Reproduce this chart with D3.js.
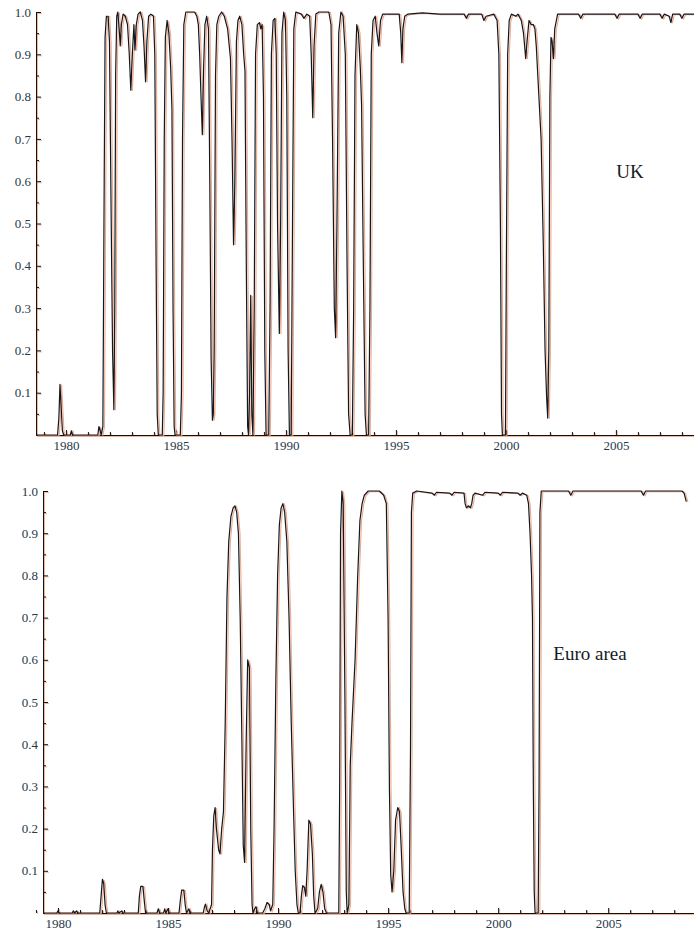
<!DOCTYPE html>
<html lang="en">
<head>
<meta charset="UTF-8">
<title>Regime probabilities</title>
<script src="https://d3js.org/d3.v7.min.js"></script>
<style>
  body { margin: 0; background: #fff; }
  .panel-label { font-family: "Liberation Serif", serif; font-size: 19px; fill: #141c26; }
</style>
</head>
<body>
<div id="chart"></div>
<script>
// UK smoothed probability, [decimal year, probability]
const ukYears = [1978.64,1979.62,1979.68,1979.73,1979.78,1979.84,1979.9,1980.2,1980.25,1980.3,1981.45,1981.5,1981.56,1981.6,1981.68,1981.74,1981.78,1981.84,1981.92,1981.98,1982.06,1982.12,1982.18,1982.22,1982.26,1982.31,1982.36,1982.42,1982.47,1982.52,1982.6,1982.7,1982.8,1982.88,1982.95,1983.02,1983.09,1983.14,1983.2,1983.28,1983.38,1983.48,1983.55,1983.62,1983.68,1983.76,1983.86,1983.98,1984.04,1984.1,1984.15,1984.2,1984.38,1984.42,1984.47,1984.52,1984.6,1984.68,1984.76,1984.82,1984.87,1984.92,1984.96,1985.2,1985.25,1985.3,1985.36,1985.45,1985.85,1985.95,1986.02,1986.08,1986.14,1986.2,1986.26,1986.32,1986.4,1986.48,1986.54,1986.6,1986.66,1986.7,1986.74,1986.8,1986.86,1986.95,1987.08,1987.2,1987.35,1987.48,1987.55,1987.62,1987.68,1987.75,1987.82,1987.9,1988.0,1988.08,1988.14,1988.2,1988.26,1988.3,1988.35,1988.4,1988.45,1988.5,1988.56,1988.62,1988.7,1988.8,1988.86,1988.92,1988.98,1989.04,1989.1,1989.22,1989.28,1989.34,1989.42,1989.5,1989.56,1989.62,1989.7,1989.76,1989.82,1989.9,1989.98,1990.04,1990.1,1990.16,1990.24,1990.3,1990.36,1990.45,1990.7,1990.82,1990.95,1991.08,1991.15,1991.22,1991.28,1991.36,1991.5,1991.95,1992.05,1992.12,1992.2,1992.26,1992.32,1992.4,1992.5,1992.6,1992.7,1992.78,1992.85,1992.92,1993.02,1993.08,1993.14,1993.22,1993.3,1993.38,1993.44,1993.52,1993.6,1993.66,1993.76,1993.82,1993.88,1993.96,1994.06,1994.14,1994.22,1994.3,1994.4,1995.15,1995.22,1995.27,1995.32,1995.4,1995.55,1996.2,1997.0,1998.1,1998.2,1998.3,1998.9,1999.0,1999.1,1999.45,1999.6,1999.68,1999.75,1999.8,1999.84,1999.98,2000.02,2000.08,2000.15,2000.25,2000.45,2000.55,2000.7,2000.8,2000.9,2000.96,2001.05,2001.15,2001.25,2001.32,2001.38,2001.45,2001.52,2001.6,2001.7,2001.78,2001.85,2001.9,2001.95,2002.0,2002.05,2002.1,2002.16,2002.22,2002.35,2003.3,2003.4,2003.5,2004.95,2005.05,2005.15,2006.0,2006.1,2006.2,2007.0,2007.1,2007.2,2007.42,2007.5,2007.58,2007.9,2008.0,2008.1,2008.6];
const ukProb = [0,0,0.04,0.12,0.07,0.01,0,0,0.01,0,0,0.02,0.01,0,0.02,0.6,0.94,0.99,0.99,0.93,0.5,0.2,0.06,0.3,0.85,0.99,1.0,0.96,0.92,0.97,0.995,0.99,0.97,0.9,0.815,0.9,0.97,0.91,0.97,0.995,1.0,0.98,0.92,0.835,0.93,0.99,0.995,0.99,0.9,0.4,0.05,0,0,0.1,0.7,0.94,0.98,0.95,0.87,0.77,0.3,0.02,0,0,0.095,0.7,0.97,1.0,1.0,0.99,0.97,0.9,0.8,0.71,0.87,0.97,0.99,0.96,0.6,0.18,0.035,0.05,0.2,0.85,0.97,0.99,1.0,0.99,0.96,0.89,0.7,0.45,0.6,0.93,0.98,0.99,0.97,0.9,0.86,0.4,0.02,0,0.1,0.33,0.05,0,0.3,0.9,0.97,0.975,0.96,0.97,0.8,0.2,0,0,0.3,0.9,0.98,0.985,0.9,0.5,0.24,0.5,0.95,1.0,0.98,0.8,0.2,0,0,0.5,0.96,1.0,0.995,0.985,0.995,0.99,0.9,0.75,0.92,0.995,1.0,1.0,0.97,0.7,0.3,0.23,0.5,0.95,1.0,0.99,0.9,0.4,0.05,0,0,0.3,0.85,0.97,0.95,0.87,0.78,0.4,0.05,0,0,0.3,0.9,0.98,0.99,0.95,0.92,0.98,0.995,0.995,0.95,0.88,0.96,0.99,0.995,0.998,0.995,0.995,0.985,0.995,0.995,0.98,0.99,0.995,0.98,0.9,0.5,0.05,0,0,0.4,0.9,0.98,0.995,0.99,0.995,0.98,0.95,0.89,0.93,0.98,0.97,0.97,0.96,0.92,0.85,0.78,0.7,0.45,0.2,0.09,0.04,0.2,0.8,0.94,0.93,0.89,0.96,0.995,0.995,0.985,0.995,0.995,0.985,0.995,0.995,0.985,0.995,0.995,0.985,0.995,0.99,0.975,0.995,0.995,0.985,0.995,0.995];

// Euro area smoothed probability
const euYears = [1979.32,1979.95,1980.0,1980.05,1980.65,1980.7,1980.75,1980.85,1980.9,1981.9,1981.96,1982.02,1982.08,1982.14,1982.2,1982.68,1982.72,1982.76,1982.9,1982.95,1983.65,1983.7,1983.76,1983.86,1983.92,1983.98,1984.5,1984.56,1984.62,1984.8,1984.85,1984.9,1985.0,1985.05,1985.5,1985.56,1985.62,1985.72,1985.78,1985.84,1985.95,1986.0,1986.6,1986.66,1986.7,1986.78,1986.85,1986.98,1987.02,1987.08,1987.14,1987.2,1987.3,1987.36,1987.44,1987.52,1987.6,1987.68,1987.76,1987.86,1987.96,1988.04,1988.12,1988.2,1988.28,1988.36,1988.42,1988.48,1988.55,1988.62,1988.7,1988.76,1988.82,1988.86,1988.94,1989.0,1989.06,1989.3,1989.4,1989.5,1989.6,1989.66,1989.76,1989.82,1989.9,1989.98,1990.06,1990.14,1990.22,1990.3,1990.4,1990.5,1990.6,1990.7,1990.78,1990.86,1990.92,1991.0,1991.06,1991.12,1991.2,1991.26,1991.32,1991.4,1991.48,1991.56,1991.62,1991.68,1991.8,1991.88,1991.96,1992.04,1992.12,1992.2,1992.76,1992.8,1992.84,1992.9,1992.96,1993.04,1993.1,1993.14,1993.22,1993.28,1993.36,1993.5,1993.62,1993.72,1993.82,1993.92,1994.1,1994.6,1994.8,1994.92,1995.0,1995.06,1995.12,1995.18,1995.26,1995.34,1995.44,1995.52,1995.6,1995.68,1995.76,1995.82,1995.96,1996.02,1996.06,1996.12,1996.3,1997.0,1997.1,1997.2,1997.8,1997.9,1998.0,1998.45,1998.5,1998.56,1998.66,1998.74,1998.8,1998.86,1998.95,1999.3,1999.4,2000.0,2000.1,2000.2,2000.9,2001.0,2001.1,2001.3,2001.38,2001.45,2001.52,2001.56,2001.6,2001.64,2001.68,2001.82,2001.86,2001.9,2001.96,2003.2,2003.3,2003.4,2006.5,2006.6,2006.7,2008.35,2008.45,2008.55];
const euProb = [0,0,0.005,0,0,0.005,0,0.005,0,0,0.04,0.08,0.07,0.02,0,0,0.005,0,0.005,0,0,0.04,0.063,0.063,0.03,0,0,0.01,0,0,0.01,0,0.01,0,0,0.03,0.054,0.054,0.02,0,0.01,0,0,0.015,0.021,0.005,0,0.02,0.15,0.23,0.25,0.2,0.15,0.14,0.2,0.24,0.45,0.75,0.88,0.94,0.96,0.965,0.95,0.9,0.7,0.4,0.16,0.12,0.4,0.6,0.58,0.2,0.02,0,0.01,0.015,0,0,0.01,0.025,0.02,0.005,0.02,0.2,0.55,0.8,0.92,0.96,0.97,0.95,0.88,0.7,0.45,0.25,0.1,0.02,0,0,0.04,0.065,0.06,0.04,0.1,0.22,0.21,0.14,0.04,0,0.01,0.05,0.068,0.05,0.01,0,0,0.3,0.9,1.0,0.97,0.5,0.05,0,0.02,0.35,0.45,0.6,0.8,0.93,0.97,0.99,1.0,1.0,0.99,0.97,0.7,0.3,0.09,0.05,0.1,0.22,0.25,0.24,0.15,0.05,0.01,0,0,0.4,0.95,0.995,1.0,0.995,0.99,0.997,0.995,0.99,0.997,0.995,0.97,0.96,0.965,0.96,0.97,0.99,0.995,0.99,0.997,0.995,0.99,0.997,0.995,0.99,0.995,0.99,0.97,0.9,0.8,0.7,0.3,0.05,0,0,0.3,0.95,1.0,1.0,0.99,1.0,1.0,0.99,1.0,1.0,0.995,0.975];

const yMajor = [0.1,0.2,0.3,0.4,0.5,0.6,0.7,0.8,0.9,1.0];
const yMinor = [0.05,0.15,0.25,0.35,0.45,0.55,0.65,0.75,0.85,0.95];
const xMajor = [1980,1985,1990,1995,2000,2005];
const xMinor = d3.range(1979, 2009);

const panels = [
  {name: "UK", years: ukYears, prob: ukProb, left: 36, top: 12, bottom: 435,
   domain: [1978.64, 2008.55], labelX: 630, labelY: 178},
  {name: "Euro area", years: euYears, prob: euProb, left: 43, top: 491, bottom: 913,
   domain: [1979.32, 2008.9], labelX: 590, labelY: 660}
];

const W = 694, H = 933;
const svg = d3.select("#chart").append("svg")
    .attr("width", W).attr("height", H);

panels.forEach(p => {
    const x = d3.scaleLinear().domain(p.domain).range([p.left, W]);
    const y = d3.scaleLinear().domain([0, 1]).range([p.bottom, p.top]);
    const g = svg.append("g");

    // axes: a faint reddish copy underneath, like the scanned original
    [["#f3b49a", 1, 1, false], ["#111", 0, 0, true]].forEach(([col, dx, dy, showText]) => {
        const ag = g.append("g").attr("transform", `translate(${dx},${dy})`);
        ag.append("g").attr("transform", `translate(${p.left},0)`)
            .call(d3.axisLeft(y).tickValues(yMajor).tickSize(-5).tickSizeOuter(0)
                .tickPadding(5).tickFormat(d3.format(".1f")));
        ag.append("g").attr("transform", `translate(${p.left},0)`)
            .call(d3.axisLeft(y).tickValues(yMinor).tickSize(-3).tickSizeOuter(0).tickFormat(""));
        ag.append("g").attr("transform", `translate(0,${p.bottom})`)
            .call(d3.axisBottom(x).tickValues(xMajor).tickSize(-5).tickSizeOuter(0)
                .tickPadding(6).tickFormat(d3.format("d")));
        ag.append("g").attr("transform", `translate(0,${p.bottom})`)
            .call(d3.axisBottom(x).tickValues(xMinor.filter(v => !xMajor.includes(v)))
                .tickSize(-3).tickSizeOuter(0).tickFormat(""));
        ag.selectAll("path.domain, .tick line").attr("stroke", col).attr("stroke-width", 1);
        ag.selectAll("g").attr("font-family", "'Liberation Serif', 'DejaVu Serif', serif")
            .attr("font-size", 13);
        ag.selectAll("text").attr("fill", "#283848");
        if (!showText) ag.selectAll("text").remove();
    });

    const pts = p.years.map((t, i) => [t, p.prob[i]]);
    const line = d3.line().x(d => x(d[0])).y(d => y(d[1]));

    g.append("path").datum(pts)
        .attr("d", line)
        .attr("transform", "translate(1.6,0.6)")
        .attr("fill", "none")
        .attr("stroke", "#ee9a78")
        .attr("stroke-width", 1.1)
        .attr("opacity", 0.85);
    g.append("path").datum(pts)
        .attr("d", line)
        .attr("fill", "none")
        .attr("stroke", "#101820")
        .attr("stroke-width", 1.2)
        .attr("stroke-linejoin", "round");

    g.append("text").attr("class", "panel-label")
        .attr("x", p.labelX).attr("y", p.labelY)
        .attr("text-anchor", "middle")
        .text(p.name);
});
</script>
</body>
</html>
